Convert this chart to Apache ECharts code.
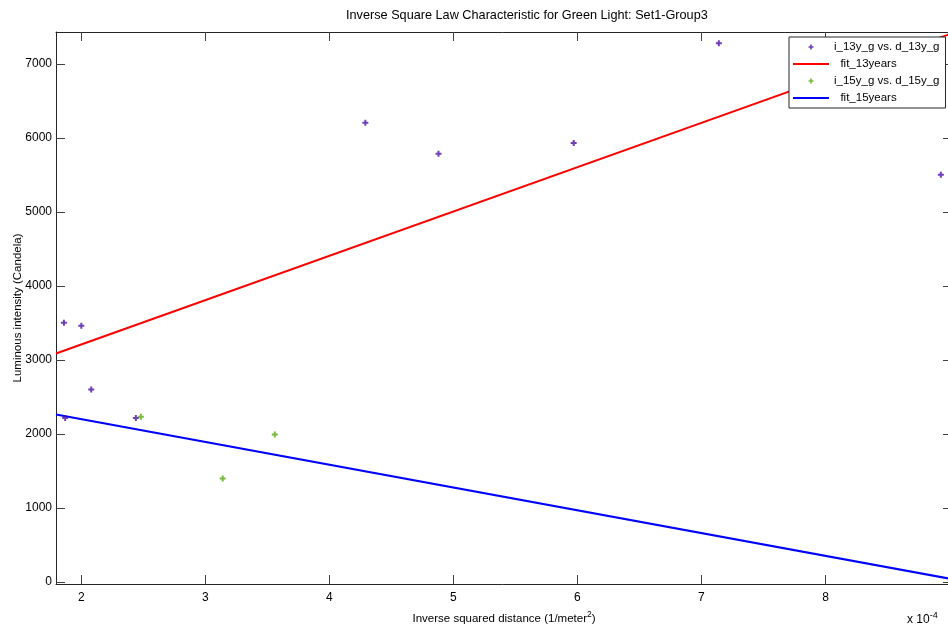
<!DOCTYPE html>
<html>
<head>
<meta charset="utf-8">
<script src="https://cdn.jsdelivr.net/npm/echarts@6/dist/echarts.min.js"></script>
<style>
  html, body { margin: 0; padding: 0; background: #fff; }
  #chart { width: 948px; height: 634px; }
</style>
</head>
<body>
<div id="chart"></div>
<script>
// Inverse squared distance, in units of 1e-4 (1/m^2)
const xTicks = [2, 3, 4, 5, 6, 7, 8];
const yTicks = [0, 1000, 2000, 3000, 4000, 5000, 6000, 7000];

// Measurements, 13-year group
const x13 = [1.86, 2.00, 2.08, 1.87, 2.44, 4.29, 4.88, 5.97, 7.14, 8.93];
const i13 = [3500, 3460, 2600, 2215, 2215, 6205, 5785, 5930, 7278, 5500];

// Measurements, 15-year group
const x15 = [2.48, 3.14, 3.56];
const i15 = [2230, 1395, 1990];

// Linear fits, evaluated at the ends of the x range
const fitX = [1.796, 9.02];
const fit13 = [3085, 7412];
const fit15 = [2262, 36];

const FONT = '"Liberation Sans", Arial, sans-serif';
const AXIS_COLOR = '#262626';
const TICK_COLOR = '#404040';

const pairs = (xs, ys) => xs.map((x, k) => [x, ys[k]]);
const plain = (v) => String(v);

const chart = echarts.init(document.getElementById('chart'), null, { renderer: 'canvas' });

const xRange = { min: fitX[0], max: fitX[1] };
const yRange = { min: -30, max: 7430 };

// flat bar used as the legend swatch of the fitted lines
const LINE_ICON = 'path://M0,0h36v2h-36z';
// small plus-shaped dot marker
const DOT = 'path://M1,0h1v1h1v1h-1v1h-1v-1h-1v-1h1z';

chart.setOption({
  animation: false,
  backgroundColor: '#ffffff',
  textStyle: { fontFamily: FONT },
  title: {
    text: 'Inverse Square Law Characteristic for Green Light: Set1-Group3',
    left: 341, top: 4,
    textStyle: { fontFamily: FONT, fontSize: 12.7, fontWeight: 'normal', color: '#000' }
  },
  grid: { left: 56, top: 32, width: 896, height: 552, containLabel: false, outerBoundsMode: 'none' },
  legend: {
    orient: 'vertical',
    left: 789, top: 37,
    padding: [4, 6, 4, 4],
    itemGap: 5,
    itemWidth: 36,
    itemHeight: 5,
    backgroundColor: '#ffffff',
    borderColor: AXIS_COLOR,
    borderWidth: 1,
    borderRadius: 0,
    textStyle: { fontFamily: FONT, fontSize: 11.5, color: '#000' },
    formatter: (name) => name.startsWith('fit') ? '  ' + name : name,
    data: [
      { name: 'i_13y_g vs. d_13y_g' },
      { name: 'fit_13years', icon: LINE_ICON },
      { name: 'i_15y_g vs. d_15y_g' },
      { name: 'fit_15years', icon: LINE_ICON }
    ]
  },
  xAxis: [
    {
      type: 'value', position: 'bottom', ...xRange,
      axisLine: { show: true, onZero: false, lineStyle: { color: AXIS_COLOR, width: 1 } },
      axisTick: { show: true, inside: true, length: 9, customValues: xTicks, lineStyle: { color: TICK_COLOR } },
      axisLabel: { customValues: xTicks, formatter: plain, margin: 8, fontFamily: FONT, fontSize: 12, color: '#000' },
      splitLine: { show: false },
      name: 'Inverse squared distance (1/meter{sup|2})',
      nameLocation: 'middle', nameGap: 26, nameMoveOverlap: false,
      nameTextStyle: {
        fontFamily: FONT, fontSize: 11.5, color: '#000',
        rich: { sup: { fontFamily: FONT, fontSize: 8.5, verticalAlign: 'top', padding: [0, 0, 8, 0] } }
      }
    },
    {
      type: 'value', position: 'top', ...xRange,
      axisLine: { show: true, onZero: false, lineStyle: { color: AXIS_COLOR, width: 1 } },
      axisTick: { show: true, inside: true, length: 9, customValues: xTicks, lineStyle: { color: TICK_COLOR } },
      axisLabel: { show: false },
      splitLine: { show: false }
    }
  ],
  yAxis: [
    {
      type: 'value', position: 'left', ...yRange,
      axisLine: { show: true, onZero: false, lineStyle: { color: AXIS_COLOR, width: 1 } },
      axisTick: { show: true, inside: true, length: 9, customValues: yTicks, lineStyle: { color: TICK_COLOR } },
      axisLabel: { customValues: yTicks, formatter: plain, margin: 4, fontFamily: FONT, fontSize: 12, color: '#000' },
      splitLine: { show: false },
      name: 'Luminous intensity (Candela)',
      nameLocation: 'middle', nameGap: 32, nameRotate: 90, nameMoveOverlap: false,
      nameTextStyle: { fontFamily: FONT, fontSize: 11.5, color: '#000' }
    },
    {
      type: 'value', position: 'right', ...yRange,
      axisLine: { show: true, onZero: false, lineStyle: { color: AXIS_COLOR, width: 1 } },
      axisTick: { show: true, inside: true, length: 9, customValues: yTicks, lineStyle: { color: TICK_COLOR } },
      axisLabel: { show: false },
      splitLine: { show: false }
    }
  ],
  graphic: [
    {
      type: 'text', left: 907, top: 611,
      style: {
        text: 'x 10{sup|-4}',
        fontFamily: FONT, fontSize: 12, fill: '#000',
        rich: { sup: { fontFamily: FONT, fontSize: 9, verticalAlign: 'top', padding: [0, 0, 8, 0], fill: '#000' } }
      }
    }
  ],
  series: [
    {
      name: 'i_13y_g vs. d_13y_g', type: 'scatter',
      data: pairs(x13, i13),
      symbol: DOT, symbolSize: 6,
      itemStyle: { color: '#4c0fa6' }, z: 3
    },
    {
      name: 'fit_13years', type: 'line',
      data: pairs(fitX, fit13),
      showSymbol: false, symbol: 'none',
      lineStyle: { color: '#ff0000', width: 2 },
      itemStyle: { color: '#ff0000' }, z: 2
    },
    {
      name: 'i_15y_g vs. d_15y_g', type: 'scatter',
      data: pairs(x15, i15),
      symbol: DOT, symbolSize: 6,
      itemStyle: { color: '#58a810' }, z: 3
    },
    {
      name: 'fit_15years', type: 'line',
      data: pairs(fitX, fit15),
      showSymbol: false, symbol: 'none',
      lineStyle: { color: '#0000ff', width: 2 },
      itemStyle: { color: '#0000ff' }, z: 2
    }
  ]
});
</script>
</body>
</html>
